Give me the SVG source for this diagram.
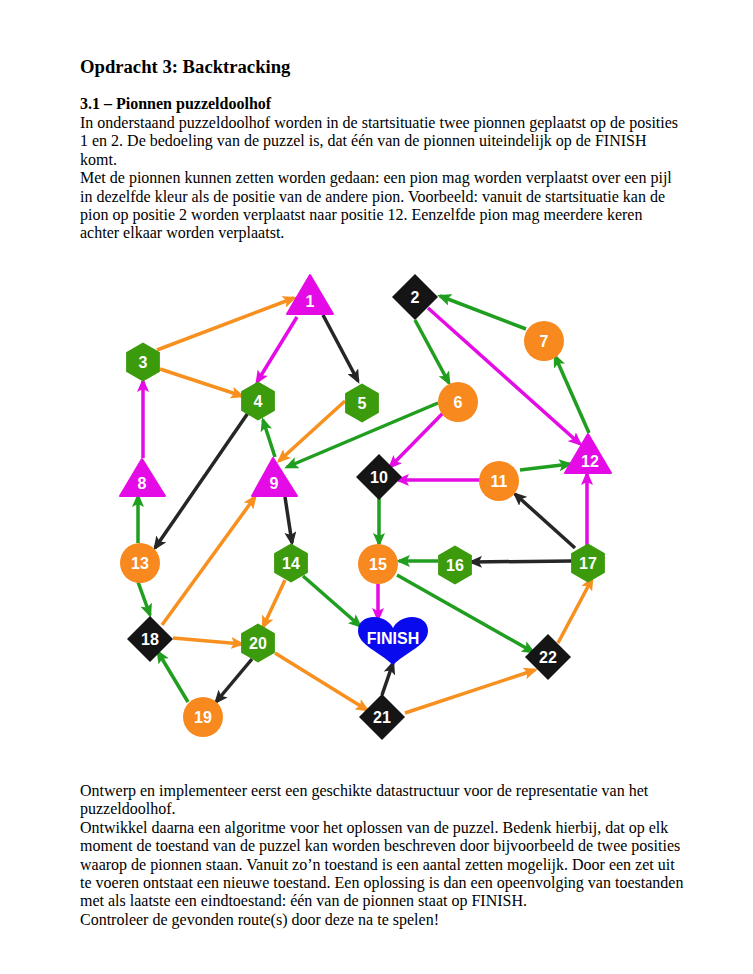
<svg xmlns="http://www.w3.org/2000/svg" width="753" height="974" viewBox="0 0 753 974">
<style>
.t{font-family:"Liberation Serif","Times New Roman",serif;font-size:16px;fill:#000}
.b{font-weight:bold}
.lbl{font-family:"Liberation Sans",Arial,sans-serif;font-size:16px;font-weight:bold;fill:#fff;text-anchor:middle}
.eo{stroke:#F7901E;stroke-width:3.5;fill:none;marker-end:url(#aO)}
.em{stroke:#E50BE6;stroke-width:3.5;fill:none;marker-end:url(#aM)}
.ek{stroke:#262626;stroke-width:3.5;fill:none;marker-end:url(#aK)}
.eg{stroke:#1F9E1F;stroke-width:3.5;fill:none;marker-end:url(#aG)}
.no{fill:#F7891F}
.nm{fill:#E50BE6;stroke:#E50BE6;stroke-width:2;stroke-linejoin:round}
.nk{fill:#151515}
.ng{fill:#3C9A0D}
</style>
<defs>
<marker id="aO" viewBox="0 0 14 12" refX="11" refY="6" markerWidth="14" markerHeight="12" markerUnits="userSpaceOnUse" orient="auto"><path d="M0,0 L14,6 L0,12 L3,6 Z" fill="#F7901E"/></marker>
<marker id="aM" viewBox="0 0 14 12" refX="11" refY="6" markerWidth="14" markerHeight="12" markerUnits="userSpaceOnUse" orient="auto"><path d="M0,0 L14,6 L0,12 L3,6 Z" fill="#E50BE6"/></marker>
<marker id="aK" viewBox="0 0 14 12" refX="11" refY="6" markerWidth="14" markerHeight="12" markerUnits="userSpaceOnUse" orient="auto"><path d="M0,0 L14,6 L0,12 L3,6 Z" fill="#262626"/></marker>
<marker id="aG" viewBox="0 0 14 12" refX="11" refY="6" markerWidth="14" markerHeight="12" markerUnits="userSpaceOnUse" orient="auto"><path d="M0,0 L14,6 L0,12 L3,6 Z" fill="#1F9E1F"/></marker>
<polygon id="hex" points="0,-19.5 16.9,-9.75 16.9,9.75 0,19.5 -16.9,9.75 -16.9,-9.75"/>
<polygon id="dia" points="0,-23 23,0 0,23 -23,0"/>
</defs>
<rect width="753" height="974" fill="#fff"/>

<g id="text">
<text class="t b" x="80" y="73" style="font-size:18.67px">Opdracht 3: Backtracking</text>
<text class="t b" x="80" y="109">3.1 – Pionnen puzzeldoolhof</text>
<text class="t" x="80" y="128">In onderstaand puzzeldoolhof worden in de startsituatie twee pionnen geplaatst op de posities</text>
<text class="t" x="80" y="146.4">1 en 2. De bedoeling van de puzzel is, dat één van de pionnen uiteindelijk op de FINISH</text>
<text class="t" x="80" y="164.8">komt.</text>
<text class="t" x="80" y="183.2">Met de pionnen kunnen zetten worden gedaan: een pion mag worden verplaatst over een pijl</text>
<text class="t" x="80" y="201.6">in dezelfde kleur als de positie van de andere pion. Voorbeeld: vanuit de startsituatie kan de</text>
<text class="t" x="80" y="220">pion op positie 2 worden verplaatst naar positie 12. Eenzelfde pion mag meerdere keren</text>
<text class="t" x="80" y="238.4">achter elkaar worden verplaatst.</text>
<text class="t" x="80" y="796">Ontwerp en implementeer eerst een geschikte datastructuur voor de representatie van het</text>
<text class="t" x="80" y="814.4">puzzeldoolhof.</text>
<text class="t" x="80" y="832.8">Ontwikkel daarna een algoritme voor het oplossen van de puzzel. Bedenk hierbij, dat op elk</text>
<text class="t" x="80" y="851.2">moment de toestand van de puzzel kan worden beschreven door bijvoorbeeld de twee posities</text>
<text class="t" x="80" y="869.6">waarop de pionnen staan. Vanuit zo’n toestand is een aantal zetten mogelijk. Door een zet uit</text>
<text class="t" x="80" y="888">te voeren ontstaat een nieuwe toestand. Een oplossing is dan een opeenvolging van toestanden</text>
<text class="t" x="80" y="906.4">met als laatste een eindtoestand: één van de pionnen staat op FINISH.</text>
<text class="t" x="80" y="924.8">Controleer de gevonden route(s) door deze na te spelen!</text>
</g>

<g id="connectors">
<line class="eo" x1="157" y1="350" x2="294" y2="298"/>
<line class="eo" x1="160" y1="369" x2="242" y2="396"/>
<line class="eo" x1="345" y1="401" x2="279" y2="461"/>
<line class="eo" x1="162" y1="625" x2="255" y2="497"/>
<line class="eo" x1="285" y1="580" x2="263" y2="627"/>
<line class="eo" x1="173" y1="638" x2="242" y2="644"/>
<line class="eo" x1="275" y1="653" x2="367" y2="710"/>
<line class="eo" x1="405" y1="713" x2="535" y2="670"/>
<line class="eo" x1="558" y1="643" x2="592" y2="579"/>

<line class="em" x1="297" y1="317" x2="257" y2="382"/>
<line class="em" x1="143" y1="458" x2="143" y2="381"/>
<line class="em" x1="378" y1="584" x2="378" y2="619"/>
<line class="em" x1="587" y1="545" x2="587" y2="474"/>
<line class="em" x1="428" y1="308" x2="580" y2="444"/>
<line class="em" x1="443" y1="413" x2="390" y2="467"/>
<line class="em" x1="480" y1="480" x2="398" y2="480"/>

<line class="ek" x1="323" y1="315" x2="358" y2="381"/>
<line class="ek" x1="248" y1="413" x2="155" y2="548"/>
<line class="ek" x1="285" y1="497" x2="292" y2="543"/>
<line class="ek" x1="252" y1="659" x2="216" y2="702"/>
<line class="ek" x1="382" y1="695" x2="393" y2="663"/>
<line class="ek" x1="572" y1="561" x2="471" y2="562"/>
<line class="ek" x1="575" y1="548" x2="515" y2="494"/>

<line class="eg" x1="275" y1="457" x2="263" y2="420"/>
<line class="eg" x1="438" y1="403" x2="287" y2="467"/>
<line class="eg" x1="138" y1="543" x2="138" y2="496"/>
<line class="eg" x1="138" y1="582" x2="150" y2="615"/>
<line class="eg" x1="303" y1="576" x2="360" y2="626"/>
<line class="eg" x1="188" y1="702" x2="158" y2="652"/>
<line class="eg" x1="397" y1="575" x2="533" y2="652"/>
<line class="eg" x1="438" y1="561" x2="399" y2="561"/>
<line class="eg" x1="589" y1="433" x2="555" y2="356"/>
<line class="eg" x1="526" y1="329" x2="440" y2="296"/>
<line class="eg" x1="415" y1="320" x2="449" y2="383"/>
<line class="eg" x1="520" y1="470" x2="570" y2="464"/>
<line class="eg" x1="379" y1="495" x2="379" y2="544"/>
</g>

<g id="n1"><polygon class="nm" points="310,275 333,314 287,314"/><text class="lbl" x="310" y="307">1</text></g>
<g id="n2"><use href="#dia" class="nk" x="415" y="297"/><text class="lbl" x="415" y="303">2</text></g>
<g id="n3"><use href="#hex" class="ng" x="143" y="362"/><text class="lbl" x="143" y="368">3</text></g>
<g id="n4"><use href="#hex" class="ng" x="258" y="401"/><text class="lbl" x="258" y="407">4</text></g>
<g id="n5"><use href="#hex" class="ng" x="362" y="403"/><text class="lbl" x="362" y="409">5</text></g>
<g id="n6"><circle class="no" cx="458" cy="402" r="20"/><text class="lbl" x="458" y="408">6</text></g>
<g id="n7"><circle class="no" cx="544" cy="341" r="20"/><text class="lbl" x="544" y="347">7</text></g>
<g id="n8"><polygon class="nm" points="142,459 165,496 120,496"/><text class="lbl" x="142" y="489">8</text></g>
<g id="n9"><polygon class="nm" points="273,458 297,496 252,496"/><text class="lbl" x="274" y="489">9</text></g>
<g id="n10"><use href="#dia" class="nk" x="379" y="477"/><text class="lbl" x="379" y="483">10</text></g>
<g id="n11"><circle class="no" cx="499" cy="481" r="20"/><text class="lbl" x="499" y="487">11</text></g>
<g id="n12"><polygon class="nm" points="588,434 611,473 565,473"/><text class="lbl" x="590" y="467">12</text></g>
<g id="n13"><circle class="no" cx="140" cy="563" r="20"/><text class="lbl" x="140" y="569">13</text></g>
<g id="n14"><use href="#hex" class="ng" x="291" y="563"/><text class="lbl" x="291" y="569">14</text></g>
<g id="n15"><circle class="no" cx="378" cy="564" r="20"/><text class="lbl" x="378" y="570">15</text></g>
<g id="n16"><use href="#hex" class="ng" x="455" y="565"/><text class="lbl" x="455" y="571">16</text></g>
<g id="n17"><use href="#hex" class="ng" x="588" y="563"/><text class="lbl" x="588" y="569">17</text></g>
<g id="n18"><use href="#dia" class="nk" x="150" y="639"/><text class="lbl" x="150" y="645">18</text></g>
<g id="n19"><circle class="no" cx="203" cy="717" r="20"/><text class="lbl" x="203" y="723">19</text></g>
<g id="n20"><use href="#hex" class="ng" x="258" y="643"/><text class="lbl" x="258" y="649">20</text></g>
<g id="n21"><use href="#dia" class="nk" x="382" y="717"/><text class="lbl" x="382" y="723">21</text></g>
<g id="n22"><use href="#dia" class="nk" x="548" y="657"/><text class="lbl" x="548" y="663">22</text></g>
<g id="finish"><path d="M393,665 C380,652 358,645 358,631 C358,622 365,617 374,617 C383,617 390,622 393,628 C396,622 403,617 412,617 C421,617 428,622 428,631 C428,645 406,652 393,665 Z" fill="#0A0AEE"/><text class="lbl" x="393" y="644">FINISH</text></g>
</svg>
